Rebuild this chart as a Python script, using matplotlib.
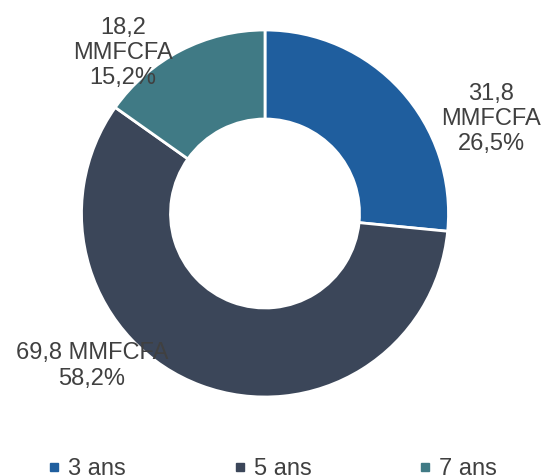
import matplotlib.pyplot as plt
from matplotlib.lines import Line2D

plt.rcParams['font.family'] = ['Liberation Sans', 'DejaVu Sans']

# Donut data: amount (MMFCFA) and share per maturity
categories = ["3 ans", "5 ans", "7 ans"]
amounts = [31.8, 69.8, 18.2]
shares = [26.5, 58.2, 15.2]
colors = ["#1F5E9E", "#3B4659", "#407A85"]
text_color = "#404040"

W, H = 544, 475
fig = plt.figure(figsize=(W / 100, H / 100), dpi=100)
ax = fig.add_axes([0, 0, 1, 1])

cx, cy, R = 265, H - 213.5, 183.5
wedges, _ = ax.pie(amounts, colors=colors, startangle=90, counterclock=False,
                   center=(cx, cy), radius=R, frame=True,
                   wedgeprops=dict(width=R * 0.485, edgecolor="white", linewidth=2))
ax.set_xlim(0, W)
ax.set_ylim(0, H)
ax.axis("off")


def fmt(v):
    return f"{v:.1f}".replace(".", ",")


# label positions in pixels (x, y from top)
label_pos = [(491, 119), (92, 366), (123, 53)]
for i, (x, y) in enumerate(label_pos):
    if i == 1:
        txt = f"{fmt(amounts[i])} MMFCFA\n{fmt(shares[i])}%"
    else:
        txt = f"{fmt(amounts[i])}\nMMFCFA\n{fmt(shares[i])}%"
    ax.text(x, H - y, txt, ha="center", va="center", fontsize=17,
            color=text_color, linespacing=1.2)

handles = [Line2D([], [], marker="s", linestyle="none", markersize=6,
                  markerfacecolor=c, markeredgecolor=c) for c in colors]
leg = ax.legend(handles, categories, loc="center", bbox_to_anchor=(0.5, 1 - 469 / H),
                ncol=3, frameon=False, fontsize=17, handlelength=0.6,
                handletextpad=0.3, columnspacing=4.5, labelcolor=text_color,
                borderpad=0)

fig.savefig("out.png", dpi=100)
